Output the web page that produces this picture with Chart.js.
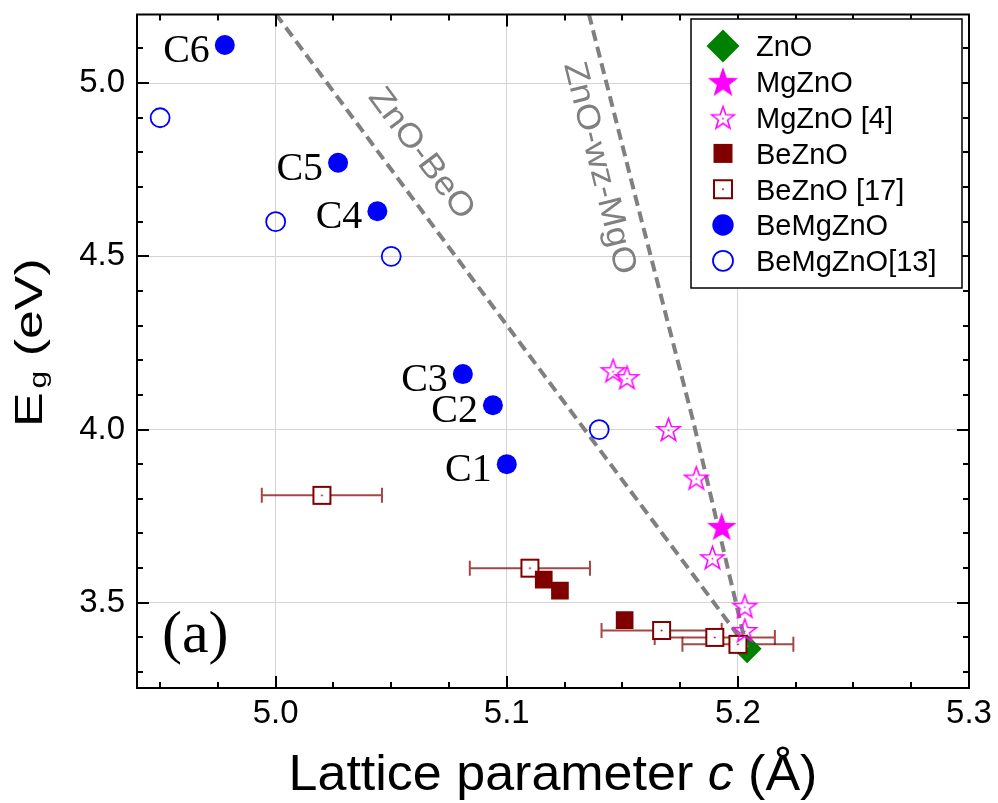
<!DOCTYPE html>
<html>
<head>
<meta charset="utf-8">
<script src="https://cdn.jsdelivr.net/npm/chart.js@4.4.1/dist/chart.umd.min.js"></script>
<style>
  html, body { margin: 0; padding: 0; background: #fff; }
  #wrap { width: 998px; height: 803px; position: relative; }
</style>
</head>
<body>
<div id="wrap"><canvas id="c"></canvas></div>
<script>
const SANS = '"Liberation Sans", Arial, sans-serif';
const SERIF = '"Liberation Serif", "Times New Roman", serif';

// Lattice parameter c (Å) and band gap Eg (eV) for each material set
const znoC = [5.204];
const znoEg = [3.367];
const mgznoC = [5.193];
const mgznoEg = [3.72];
const mgznoRef4C = [5.146, 5.152, 5.170, 5.182, 5.189, 5.203, 5.203];
const mgznoRef4Eg = [4.17, 4.15, 4.00, 3.86, 3.63, 3.49, 3.42];
const beznoC = [5.116, 5.123, 5.151];
const beznoEg = [3.567, 3.535, 3.45];
const beznoRef17C = [5.020, 5.110, 5.167, 5.190, 5.200];
const beznoRef17Eg = [3.81, 3.60, 3.42, 3.40, 3.38];
const beznoRef17CErr = [0.026, 0.026, 0.026, 0.026, 0.024];
const bemgznoC = [5.100, 5.094, 5.081, 5.044, 5.027, 4.978];
const bemgznoEg = [3.90, 4.07, 4.16, 4.63, 4.77, 5.11];
const bemgznoNames = ['C1', 'C2', 'C3', 'C4', 'C5', 'C6'];
const bemgznoRef13C = [4.95, 5.00, 5.05, 5.14];
const bemgznoRef13Eg = [4.90, 4.60, 4.50, 4.00];

// Alloy trend lines
const beoLineC = [5.000, 5.091, 5.118, 5.189, 5.204];
const beoLineEg = [5.20, 4.382, 4.14, 3.506, 3.37];
const mgoLineC = [5.1355, 5.1546, 5.1806, 5.2037];
const mgoLineEg = [5.20, 4.70, 4.026, 3.371];
const trendNames = ['ZnO-BeO', 'ZnO-wz-MgO'];
const trendLabelAt = [[5.0629, 4.796], [5.140, 4.754]];

// Axis ranges and tick spacing
const xRange = [4.94, 5.30];
const yRange = [3.254, 5.198];
const xMajor = 0.1, xMinor = 0.025;
const yMajor = 0.5, yMinor = 0.1;

const pts = (xs, ys) => xs.map((x, i) => ({ x: x, y: ys[i] }));

// ---- marker sprites ----
function makeStar(R, fill, stroke, lw, dot) {
  const pad = Math.ceil(lw) + 1;
  const size = Math.ceil(2 * R) + 2 * pad;
  const c = document.createElement('canvas');
  c.width = size; c.height = size;
  const g = c.getContext('2d');
  const cx = size / 2, cy = size / 2 + R * 0.08;
  g.beginPath();
  for (let k = 0; k < 10; k++) {
    const r = k % 2 ? R * 0.4 : R;
    const a = -Math.PI / 2 + k * Math.PI / 5;
    const px = cx + r * Math.cos(a), py = cy + r * Math.sin(a);
    if (k) g.lineTo(px, py); else g.moveTo(px, py);
  }
  g.closePath();
  if (fill) { g.fillStyle = fill; g.fill(); }
  if (stroke) { g.lineWidth = lw; g.strokeStyle = stroke; g.stroke(); }
  if (dot) { g.fillStyle = dot; g.fillRect(cx - 0.8, cy - 0.8, 1.6, 1.6); }
  return c;
}
function makeOpenSquare(side, stroke, lw) {
  const size = Math.ceil(side + 2 * lw + 2);
  const c = document.createElement('canvas');
  c.width = size; c.height = size;
  const g = c.getContext('2d');
  const o = (size - side) / 2;
  g.fillStyle = '#ffffff';
  g.fillRect(o, o, side, side);
  g.lineWidth = lw; g.strokeStyle = stroke;
  g.strokeRect(o, o, side, side);
  g.fillStyle = stroke;
  g.fillRect(size / 2 - 0.8, size / 2 - 0.8, 1.6, 1.6);
  return c;
}

const MAGENTA = '#ff00ff', DRED = '#800000', BLUE = '#0000ff', GREEN = '#008000';
const starFilled = makeStar(15.5, MAGENTA, null, 0, null);
const starOpen = makeStar(12.3, null, MAGENTA, 1.5, MAGENTA);
const openSq = makeOpenSquare(17, DRED, 2);
const starFilledLg = makeStar(16, MAGENTA, null, 0, null);
const starOpenLg = makeStar(12, null, MAGENTA, 1.5, MAGENTA);
const openSqLg = makeOpenSquare(18, DRED, 2);

// ---- helpers ----
function ticksBetween(min, max, step) {
  const out = [];
  for (let k = Math.ceil(min / step - 1e-9); k * step <= max + 1e-9; k++) out.push(k * step);
  return out;
}
function isMultiple(v, step) { return Math.abs(v / step - Math.round(v / step)) < 1e-6; }

// Error bars in c for the BeZnO [17] set
const errorBarPlugin = {
  id: 'errorBars',
  beforeDatasetsDraw(chart) {
    const ctx = chart.ctx, xs = chart.scales.x, ys = chart.scales.y;
    chart.data.datasets.forEach((ds) => {
      if (!ds.errX) return;
      ctx.save();
      ctx.strokeStyle = 'rgba(128,0,0,0.72)';
      ctx.lineWidth = 2;
      ds.data.forEach((p, i) => {
        const y = ys.getPixelForValue(p.y);
        const x0 = xs.getPixelForValue(p.x - ds.errX[i]);
        const x1 = xs.getPixelForValue(p.x + ds.errX[i]);
        ctx.beginPath();
        ctx.moveTo(x0, y); ctx.lineTo(x1, y);
        ctx.moveTo(x0, y - 7.5); ctx.lineTo(x0, y + 7.5);
        ctx.moveTo(x1, y - 7.5); ctx.lineTo(x1, y + 7.5);
        ctx.stroke();
      });
      ctx.restore();
    });
  }
};

// Point names, trend-line names and the panel letter
const annotationPlugin = {
  id: 'annotations',
  afterDatasetsDraw(chart) {
    const ctx = chart.ctx, xs = chart.scales.x, ys = chart.scales.y, area = chart.chartArea;
    ctx.save();
    // sample names beside the BeMgZnO points
    const idx = chart.data.datasets.findIndex(d => d.label === 'BeMgZnO');
    const meta = chart.getDatasetMeta(idx);
    ctx.font = '40px ' + SERIF;
    ctx.fillStyle = '#000';
    ctx.textAlign = 'right';
    ctx.textBaseline = 'alphabetic';
    meta.data.forEach((el, i) => {
      ctx.fillText(bemgznoNames[i], el.x - 15, el.y + 17);
    });
    // names along the trend lines
    const lines = chart.data.datasets.filter(d => d.isTrend);
    lines.forEach((ds, i) => {
      const a = ds.data[0], b = ds.data[ds.data.length - 1];
      const ang = Math.atan2(ys.getPixelForValue(b.y) - ys.getPixelForValue(a.y),
                             xs.getPixelForValue(b.x) - xs.getPixelForValue(a.x));
      const px = xs.getPixelForValue(trendLabelAt[i][0]);
      const py = ys.getPixelForValue(trendLabelAt[i][1]);
      ctx.save();
      ctx.translate(px, py);
      ctx.rotate(ang);
      ctx.scale(1.1, 1);
      ctx.font = '33px ' + SANS;
      ctx.fillStyle = '#808080';
      ctx.textAlign = 'center';
      ctx.textBaseline = 'middle';
      ctx.fillText(trendNames[i], 0, 0);
      ctx.restore();
    });
    // panel letter
    ctx.font = '60px ' + SERIF;
    ctx.textAlign = 'left';
    ctx.fillText('(a)', area.left + 25, area.bottom - 36);
    ctx.restore();
  }
};

// Frame, inward ticks on all sides, axis titles and the legend box
const framePlugin = {
  id: 'frame',
  afterDraw(chart) {
    const ctx = chart.ctx, xs = chart.scales.x, ys = chart.scales.y, a = chart.chartArea;
    ctx.save();
    ctx.strokeStyle = '#000';
    ctx.lineWidth = 2;
    ctx.beginPath();
    ticksBetween(xs.min, xs.max, xMinor).forEach(v => {
      const len = isMultiple(v, xMajor) ? 12 : 6;
      const x = Math.round(xs.getPixelForValue(v));
      ctx.moveTo(x, a.bottom); ctx.lineTo(x, a.bottom - len);
      ctx.moveTo(x, a.top); ctx.lineTo(x, a.top + len);
    });
    ticksBetween(ys.min, ys.max, yMinor).forEach(v => {
      const len = isMultiple(v, yMajor) ? 12 : 6;
      const y = Math.round(ys.getPixelForValue(v));
      ctx.moveTo(a.left, y); ctx.lineTo(a.left + len, y);
      ctx.moveTo(a.right, y); ctx.lineTo(a.right - len, y);
    });
    ctx.stroke();
    ctx.strokeRect(a.left, a.top, a.right - a.left, a.bottom - a.top);

    // x axis title
    ctx.fillStyle = '#000';
    ctx.textBaseline = 'alphabetic';
    const cx = (a.left + a.right) / 2;
    const sx = 1.04;
    const f1 = '50px ' + SANS, f2 = 'italic 50px ' + SANS;
    const p1 = 'Lattice parameter ', p2 = 'c', p3 = ' (\u00C5)';
    ctx.font = f1; const w1 = ctx.measureText(p1).width, w3 = ctx.measureText(p3).width;
    ctx.font = f2; const w2 = ctx.measureText(p2).width;
    ctx.save();
    ctx.translate(cx - (w1 + w2 + w3) * sx / 2, 790);
    ctx.scale(sx, 1);
    ctx.textAlign = 'left';
    ctx.font = f1; ctx.fillText(p1, 0, 0);
    ctx.font = f2; ctx.fillText(p2, w1, 0);
    ctx.font = f1; ctx.fillText(p3, w1 + w2, 0);
    ctx.restore();

    // y axis title with subscript
    ctx.save();
    ctx.translate(42, 427);
    ctx.rotate(-Math.PI / 2);
    ctx.scale(1.33, 1);
    ctx.textAlign = 'left';
    ctx.font = '39px ' + SANS;
    ctx.fillText('E', 0, 0);
    const wE = ctx.measureText('E').width;
    ctx.font = '24px ' + SANS;
    ctx.fillText('g', wE + 3, 3.5);
    const wg = ctx.measureText('g').width;
    ctx.font = '39px ' + SANS;
    ctx.fillText(' (eV)', wE + 3 + wg, 0);
    ctx.restore();

    // legend
    const L = { x: 691, y: 19, w: 271, h: 269 };
    ctx.fillStyle = '#fff';
    ctx.fillRect(L.x, L.y, L.w, L.h);
    ctx.lineWidth = 1.5;
    ctx.strokeStyle = '#000';
    ctx.strokeRect(L.x, L.y, L.w, L.h);
    const mx = 723, tx = 756, row0 = 46, step = 35.8;
    const drawers = {
      'ZnO': (y) => { ctx.fillStyle = GREEN; ctx.beginPath(); ctx.moveTo(mx, y - 16.5); ctx.lineTo(mx + 16.5, y); ctx.lineTo(mx, y + 16.5); ctx.lineTo(mx - 16.5, y); ctx.closePath(); ctx.fill(); },
      'MgZnO': (y) => ctx.drawImage(starFilledLg, mx - starFilledLg.width / 2, y - starFilledLg.height / 2),
      'MgZnO [4]': (y) => ctx.drawImage(starOpenLg, mx - starOpenLg.width / 2, y - starOpenLg.height / 2),
      'BeZnO': (y) => { ctx.fillStyle = DRED; ctx.fillRect(mx - 9.5, y - 9.5, 19, 19); },
      'BeZnO [17]': (y) => ctx.drawImage(openSqLg, mx - openSqLg.width / 2, y - openSqLg.height / 2),
      'BeMgZnO': (y) => { ctx.fillStyle = BLUE; ctx.beginPath(); ctx.arc(mx, y, 10.7, 0, Math.PI * 2); ctx.fill(); },
      'BeMgZnO[13]': (y) => { ctx.strokeStyle = BLUE; ctx.lineWidth = 1.8; ctx.beginPath(); ctx.arc(mx, y, 10, 0, Math.PI * 2); ctx.stroke(); }
    };
    const entries = chart.data.datasets.filter(d => !d.isTrend);
    entries.forEach((ds, i) => {
      const y = row0 + i * step;
      drawers[ds.label](y);
      ctx.fillStyle = '#000';
      ctx.font = '29px ' + SANS;
      ctx.textAlign = 'left';
      ctx.textBaseline = 'alphabetic';
      ctx.fillText(ds.label, tx, y + 10.4);
    });
    ctx.restore();
  }
};

const tickFont = { family: SANS, size: 33 };

new Chart(document.getElementById('c'), {
  type: 'scatter',
  data: {
    datasets: [
      { label: 'ZnO', data: pts(znoC, znoEg), pointStyle: 'rectRot', pointRadius: 14.5,
        backgroundColor: GREEN, borderColor: GREEN, borderWidth: 0, order: 3 },
      { label: 'MgZnO', data: pts(mgznoC, mgznoEg), pointStyle: starFilled, pointRadius: 10, order: 0 },
      { label: 'MgZnO [4]', data: pts(mgznoRef4C, mgznoRef4Eg), pointStyle: starOpen, pointRadius: 10, order: 0 },
      { label: 'BeZnO', data: pts(beznoC, beznoEg), pointStyle: 'rect', pointRadius: 12.5,
        backgroundColor: DRED, borderColor: DRED, borderWidth: 0, order: 0 },
      { label: 'BeZnO [17]', data: pts(beznoRef17C, beznoRef17Eg), errX: beznoRef17CErr,
        pointStyle: openSq, pointRadius: 10, order: 0 },
      { label: 'BeMgZnO', data: pts(bemgznoC, bemgznoEg), pointStyle: 'circle', pointRadius: 10,
        backgroundColor: BLUE, borderColor: BLUE, borderWidth: 0, order: 0 },
      { label: 'BeMgZnO[13]', data: pts(bemgznoRef13C, bemgznoRef13Eg), pointStyle: 'circle', pointRadius: 9.5,
        backgroundColor: 'rgba(0,0,0,0)', borderColor: BLUE, borderWidth: 1.8, order: 0 },
      { label: 'ZnO-BeO', isTrend: true, data: pts(beoLineC, beoLineEg), showLine: true, pointRadius: 0,
        borderColor: '#808080', borderWidth: 4, borderDash: [11, 6], fill: false, clip: 0, order: 2 },
      { label: 'ZnO-wz-MgO', isTrend: true, data: pts(mgoLineC, mgoLineEg), showLine: true, pointRadius: 0,
        borderColor: '#808080', borderWidth: 4, borderDash: [11, 6], fill: false, clip: 0, order: 2 }
    ]
  },
  options: {
    responsive: true,
    maintainAspectRatio: false,
    animation: false,
    events: [],
    layout: { padding: { left: 0, right: 29, top: 14, bottom: 0 } },
    plugins: { legend: { display: false }, tooltip: { enabled: false }, title: { display: false } },
    scales: {
      x: {
        type: 'linear', min: xRange[0], max: xRange[1],
        afterFit(scale) { scale.height = 115; scale.paddingLeft = 0; scale.paddingRight = 0; },
        border: { display: false },
        grid: { color: '#d4d4d4', lineWidth: 1, drawTicks: false },
        ticks: { stepSize: xMajor, includeBounds: false, color: '#000', font: tickFont, padding: 6,
                 maxRotation: 0, autoSkip: false, callback: v => Number(v).toFixed(1) }
      },
      y: {
        type: 'linear', min: yRange[0], max: yRange[1],
        afterFit(scale) { scale.width = 137; scale.paddingTop = 0; scale.paddingBottom = 0; },
        border: { display: false },
        grid: { color: '#d4d4d4', lineWidth: 1, drawTicks: false },
        ticks: { stepSize: yMajor, includeBounds: false, color: '#000', font: tickFont, padding: 12,
                 autoSkip: false, callback: v => Number(v).toFixed(1) }
      }
    }
  },
  plugins: [errorBarPlugin, annotationPlugin, framePlugin]
});
</script>
</body>
</html>
